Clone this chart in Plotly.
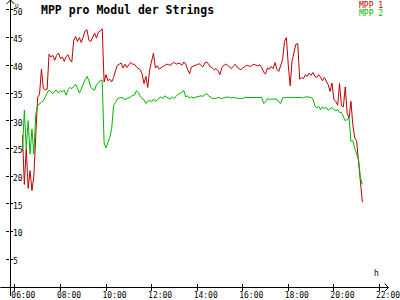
import pandas as pd
import plotly.graph_objects as go

# 5-minute samples starting 06:20
start_time = "2020-06-01 06:20"
step_minutes = 5

mpp1 = [27.4, 18.5, 25.0, 17.8, 21.0, 17.4, 20.0, 28.6, 34.2, 34.8,
        39.3, 35.8, 35.6, 35.7, 42.0, 41.5, 41.8, 40.9, 41.8, 42.2,
        41.2, 41.5, 40.7, 41.6, 41.9, 41.0, 40.6, 44.5, 45.2, 44.3,
        45.0, 44.1, 45.3, 46.2, 46.4, 44.5, 44.3, 45.2, 45.8, 44.9,
        46.0, 46.2, 46.6, 37.0, 38.3, 37.2, 37.5, 37.0, 37.8, 39.0,
        40.0, 40.2, 40.4, 39.5, 40.2, 39.6, 40.0, 40.5, 40.2, 40.2,
        39.7, 39.4, 39.2, 38.5, 36.7, 38.0, 36.0, 39.2, 41.0, 42.2,
        39.5, 39.9, 39.3, 39.6, 39.8, 40.0, 40.2, 40.1, 40.0, 40.4,
        40.5, 40.2, 40.4, 40.3, 40.0, 40.6, 40.2, 39.2, 38.5, 39.7,
        39.9, 40.0, 40.1, 40.3, 40.0, 39.7, 40.4, 40.6, 40.2, 39.7,
        39.5, 39.2, 39.4, 39.0, 38.3, 39.6, 40.0, 40.2, 40.0, 39.7,
        39.4, 39.8, 40.2, 39.7, 39.5, 39.2, 39.5, 39.8, 40.0, 39.9,
        39.8, 40.0, 40.2, 40.0, 39.9, 40.1, 39.6, 38.8, 38.4, 39.5,
        39.3, 39.8, 39.4, 40.5, 39.3, 38.9, 40.2, 41.0, 44.3, 45.0,
        40.0, 36.3, 40.8, 42.5, 43.8, 43.9, 37.5, 37.8, 37.6, 38.3,
        38.0, 38.6, 38.2, 38.7, 38.0, 37.8, 38.3, 37.9, 37.2, 37.8,
        37.0, 36.5, 35.3, 36.8, 33.8, 33.5, 32.8, 36.7, 32.7, 32.5,
        36.1, 31.3, 30.5, 33.5, 29.2, 26.9, 26.3, 23.0, 19.5, 15.3]

mpp2 = [24.5, 31.9, 25.0, 30.0, 24.0, 28.5, 24.0, 31.0, 32.8, 33.0,
        33.3, 33.6, 34.4, 35.0, 35.5, 35.2, 34.9, 35.4, 35.5, 35.0,
        35.4, 35.2, 35.5, 34.6, 35.6, 36.0, 35.8, 36.2, 36.6, 35.8,
        35.0, 35.7, 36.6, 37.4, 38.0, 37.2, 36.0, 35.8, 35.5, 36.5,
        36.8, 37.3, 37.3, 26.0, 25.1, 26.0, 27.0, 28.6, 32.7, 33.3,
        33.9, 34.1, 34.2, 34.1, 33.8, 34.0, 34.1, 34.3, 34.6, 34.6,
        35.4, 35.1, 34.5, 34.0, 33.8, 33.1, 33.5, 33.7, 33.4, 33.9,
        33.5, 33.7, 34.1, 34.3, 34.0, 34.5, 34.2, 34.0, 33.9, 34.3,
        34.0, 34.5, 34.7, 34.9, 35.2, 35.4, 34.3, 34.5, 34.1, 34.3,
        34.1, 34.2, 34.3, 34.4, 34.5, 34.4, 34.6, 34.9, 34.5, 34.2,
        34.0, 34.0, 34.0, 34.2, 34.1, 34.0, 34.1, 34.2, 34.3, 34.2,
        34.1, 34.2, 34.1, 34.1, 34.0, 34.0, 34.0, 34.2, 34.2, 34.2,
        34.2, 34.2, 34.2, 34.2, 34.2, 34.2, 34.2, 33.1, 33.4, 34.0,
        33.8, 33.9, 33.9, 33.9, 33.9, 33.4, 33.1, 34.1, 34.2, 34.2,
        34.2, 34.2, 34.3, 34.3, 34.2, 34.2, 34.3, 34.2, 34.1, 34.3,
        34.3, 34.2, 34.2, 33.9, 32.7, 32.3, 32.6, 32.0, 32.5, 32.2,
        32.4, 31.9, 32.2, 32.4, 32.0, 31.8, 32.0, 31.5, 31.5, 30.8,
        30.0, 30.2, 30.5, 26.3, 26.4, 25.0, 23.8, 23.0, 19.7, 18.5]

series_names = ["MPP 1", "MPP 2"]
series_colors = ["#c00000", "#00b400"]
title_text = "MPP pro Modul der Strings"
x_tick_times = ["06:00", "08:00", "10:00", "12:00", "14:00", "16:00", "18:00", "20:00", "22:00"]
y_tick_vals = [5, 10, 15, 20, 25, 30, 35, 40, 45, 50]

times = pd.date_range(start_time, periods=len(mpp1), freq=f"{step_minutes}min")
day = "2020-06-01 "
tickvals = [pd.Timestamp(day + t) for t in x_tick_times]

W, H = 400, 300
L, R, T, B = 10, 0, 0, 9
pw, ph = W - L - R, H - T - B


def px(x):
    return (x - L) / pw


def py(y):
    return (H - B - y) / ph


FONT = "DejaVu Sans Mono"
fig = go.Figure()
for vals, name, col in zip([mpp1, mpp2], series_names, series_colors):
    fig.add_trace(go.Scatter(x=times, y=vals, mode="lines", name=name,
                             line=dict(color=col, width=1), showlegend=False))

fig.update_layout(
    width=W, height=H,
    margin=dict(l=L, r=R, t=T, b=B, pad=0),
    paper_bgcolor="white", plot_bgcolor="white",
    xaxis=dict(range=[pd.Timestamp(day + "05:47:13"), pd.Timestamp(day + "22:25:12")],
               tickvals=tickvals, tickformat="%H:%M",
               ticks="outside", ticklen=3, tickcolor="black", tickwidth=1,
               showgrid=False, zeroline=False, showline=False,
               ticklabelposition="outside right", ticklabelshift=-4,
               ticklabeloverflow="allow",
               tickfont=dict(family=FONT, size=8, color="black")),
    yaxis=dict(range=[0, 51.78], tickvals=y_tick_vals,
               ticks="outside", ticklen=3, tickcolor="black", tickwidth=1,
               showgrid=False, zeroline=False, showline=False,
               ticklabelposition="inside", ticklabeloverflow="allow",
               ticklabelshift=2,
               tickfont=dict(family=FONT, size=8, color="black")),
    xaxis2=dict(overlaying="x", matches="x", tickvals=tickvals, ticks="inside", ticklen=3,
                tickcolor="black", showticklabels=False, showgrid=False, zeroline=False),
    yaxis2=dict(overlaying="y", matches="y", tickvals=y_tick_vals, ticks="inside", ticklen=3,
                tickcolor="black", showticklabels=False, showgrid=False, zeroline=False),
)
# invisible trace to activate overlay axes
fig.add_trace(go.Scatter(x=[times[0]], y=[None], xaxis="x2", yaxis="y2",
                         showlegend=False, hoverinfo="skip"))

line = dict(color="black", width=1)
shapes = [
    dict(type="line", xref="paper", yref="paper", x0=px(0), x1=px(399), y0=py(291.5), y1=py(291.5), line=line),
    dict(type="line", xref="paper", yref="paper", x0=px(10.5), x1=px(10.5), y0=py(0), y1=py(300), line=line),
    dict(type="path", xref="paper", yref="paper",
         path=f"M {px(395.5)} {py(287.5)} L {px(399.5)} {py(291.5)} L {px(395.5)} {py(295.5)}", line=line),
    dict(type="path", xref="paper", yref="paper",
         path=f"M {px(6.5)} {py(4)} L {px(10.5)} {py(0)} L {px(14.5)} {py(4)}", line=line),
]
fig.update_layout(shapes=shapes)

ann = [
    dict(text=f"<b>{title_text}</b>", x=px(40), y=py(1), xanchor="left", yanchor="top",
         font=dict(family=FONT, size=11.5, color="black")),
    dict(text=series_names[0], x=px(396), y=py(-1), xanchor="right", yanchor="top",
         font=dict(family=FONT, size=8, color=series_colors[0])),
    dict(text=series_names[1], x=px(396), y=py(7), xanchor="right", yanchor="top",
         font=dict(family=FONT, size=8, color=series_colors[1])),
    dict(text="h", x=px(387), y=py(284), xanchor="center", yanchor="bottom",
         font=dict(family=FONT, size=8, color="black")),
    dict(text="U", x=px(13), y=py(0), xanchor="left", yanchor="top", height=6,
         font=dict(family=FONT, size=6, color="black")),
]
for a in ann:
    a.update(xref="paper", yref="paper", showarrow=False)
fig.update_layout(annotations=ann)

fig.write_html("out.html")
